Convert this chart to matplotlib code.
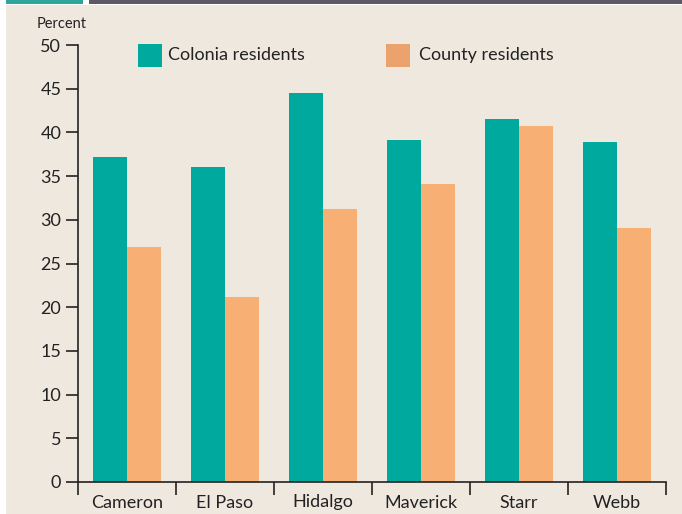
import numpy as np
import matplotlib
matplotlib.use("Agg")
from matplotlib import pyplot as plt
from matplotlib.patches import Rectangle

# Data
counties = ["Cameron", "El Paso", "Hidalgo", "Maverick", "Starr", "Webb"]
colonia = [37.2, 36.0, 44.5, 39.1, 41.5, 38.9]
county = [26.9, 21.2, 31.2, 34.1, 40.7, 29.1]
yticks = [0, 5, 10, 15, 20, 25, 30, 35, 40, 45, 50]

teal = "#00A99D"
orange = "#F8AF74"
orange_key = "#EBA26C"
bg = "#EFE8DF"

plt.rcParams["font.family"] = ["Lato", "DejaVu Sans"]

W, H = 682, 514
fig = plt.figure(figsize=(W / 100, H / 100), dpi=100)
fig.patch.set_facecolor("white")

# background panel and top strip
fig.patches.append(Rectangle((6 / W, 0), 1, 1 - 5 / H, transform=fig.transFigure,
                             facecolor=bg, edgecolor="none", zorder=-10))
fig.patches.append(Rectangle((6 / W, 1 - 4 / H), 77 / W, 4 / H, transform=fig.transFigure,
                             facecolor="#2DA59A", edgecolor="none"))
fig.patches.append(Rectangle((89 / W, 1 - 4 / H), 1, 4 / H, transform=fig.transFigure,
                             facecolor="#5E5866", edgecolor="none"))

ax = fig.add_axes([78 / W, 32 / H, 588 / W, 437 / H])
ax.set_facecolor("none")

x = np.arange(len(counties))
w = 0.35
ax.bar(x - w / 2, colonia, w, color=teal, zorder=2)
ax.bar(x + w / 2, county, w, color=orange, zorder=2)

ax.set_xlim(-0.5, len(counties) - 0.5)
ax.set_ylim(0, 50)
ax.set_yticks(yticks)
ax.tick_params(axis="y", direction="out", length=9, width=1.2, labelsize=13,
               colors="#222222", pad=3)
ax.set_xticks(x)
ax.set_xticklabels(counties)
ax.tick_params(axis="x", which="major", length=0, labelsize=13, colors="#222222", pad=9)
ax.set_xticks(np.arange(-0.5, len(counties)), minor=True)
ax.tick_params(axis="x", which="minor", direction="out", length=9, width=1.2, color="#222222")

for s in ["top", "right"]:
    ax.spines[s].set_visible(False)
for s in ["left", "bottom"]:
    ax.spines[s].set_linewidth(1.2)
    ax.spines[s].set_color("#222222")

fig.text(37 / W, 1 - 24 / H, "Percent", fontsize=10.5, color="#222222", va="center")

# legend
fig.patches.append(Rectangle((138 / W, 1 - 67 / H), 24 / W, 23 / H, transform=fig.transFigure,
                             facecolor=teal, edgecolor="none"))
fig.text(168 / W, 1 - 55 / H, "Colonia residents", fontsize=13, color="#222222", va="center")
fig.patches.append(Rectangle((386 / W, 1 - 67 / H), 24 / W, 23 / H, transform=fig.transFigure,
                             facecolor=orange_key, edgecolor="none"))
fig.text(419 / W, 1 - 55 / H, "County residents", fontsize=13, color="#222222", va="center")

fig.savefig("out.png", dpi=100, facecolor=fig.get_facecolor())
